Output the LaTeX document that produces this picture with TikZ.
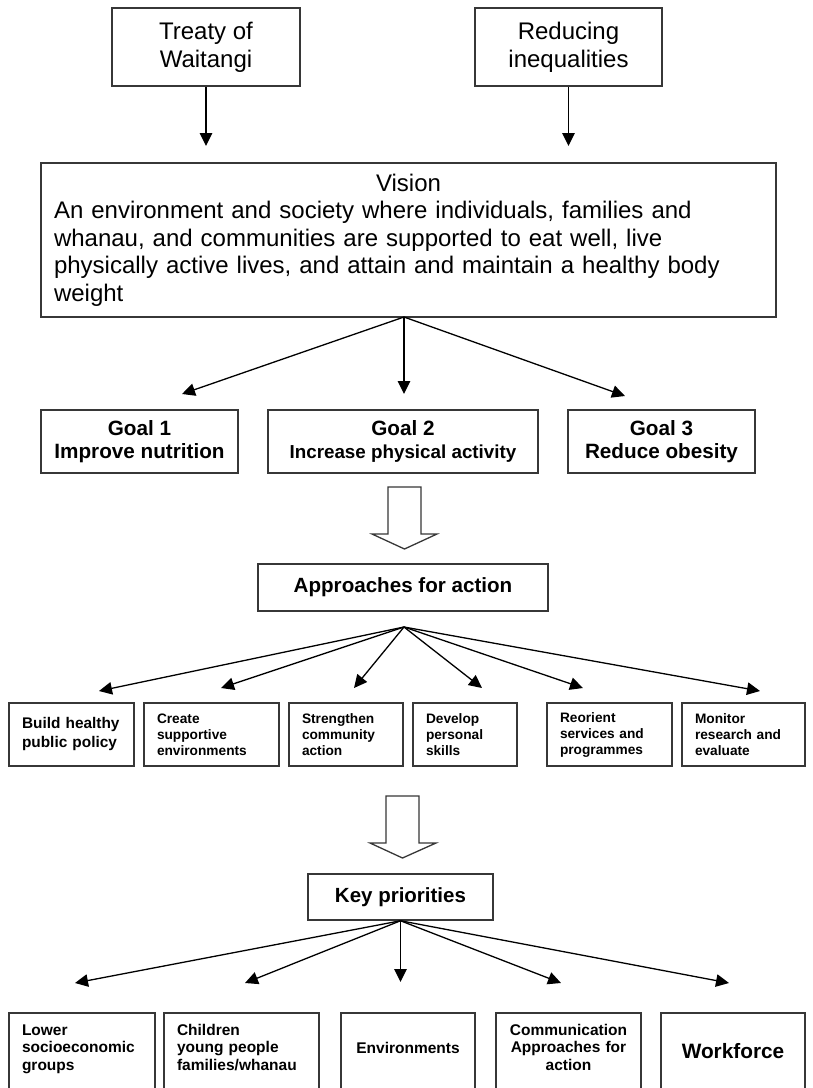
\documentclass[tikz,border=0pt]{standalone}
\usepackage{fontspec}
\setmainfont{Liberation Sans}
\usetikzlibrary{arrows.meta,positioning}
\definecolor{boxLine}{RGB}{55,55,55}
\newcommand{\fsz}[2]{\fontsize{#1}{#2}\selectfont}

\begin{document}
\begin{tikzpicture}[x=1pt,y=-1pt,
    box/.style={draw=boxLine, line width=1.5pt, inner sep=0pt, align=center},
    actbox/.style={box, inner xsep=13pt, minimum height=63pt, align=left,
      font=\bfseries\fsz{13.7}{16}},
    priobox/.style={box, inner xsep=13pt, anchor=north, text depth=110pt,
      font=\bfseries\fsz{15.5}{17.5}},
    link/.style={-{Triangle[length=13pt,width=12.5pt]}, line width=1.3pt},
    bigarrow/.style={draw=boxLine, line width=1.3pt, fill=white, line join=miter}]
    \clip (0,0) rectangle (812,1088);
    \fill[white] (0,0) rectangle (812,1088);
    % principles at the top
    \node[box, minimum width=188pt, minimum height=78pt, font=\fsz{24}{28}]
      (treaty) at (206,47) {Treaty of\\Waitangi};
    \node[box, minimum width=187pt, minimum height=78pt, font=\fsz{24}{28}]
      (reduce) at (568.5,47) {Reducing\\inequalities};
    \coordinate (treatytip) at (206,146);
    \coordinate (reducetip) at (568.5,146);
    \draw[link] (treaty.south) -- (treatytip);
    \draw[link] (reduce.south) -- (reducetip);
    % vision
    \node[box, minimum width=735pt, minimum height=154pt, text width=709pt,
      align=left, font=\fsz{24}{27.5}] (vision) at (408.5,240)
      {\makebox[\linewidth]{Vision}\\
       An environment and society where individuals, families and\\
       whanau, and communities are supported to eat well, live\\
       physically active lives, and attain and maintain a healthy body\\
       weight};
    % goals
    \node[box, minimum width=197pt, minimum height=63pt, font=\bfseries\fsz{20.7}{23}]
      (goal1) at (139.5,441.5) {Goal 1\\Improve nutrition};
    \node[box, minimum width=270pt, minimum height=63pt, font=\bfseries\fsz{20.7}{23}]
      (goal2) at (403,441.5) {Goal 2\\{\fsz{18.8}{23}Increase physical activity}};
    \node[box, minimum width=187pt, minimum height=63pt, font=\bfseries\fsz{20.7}{23}]
      (goal3) at (661.5,441.5) {Goal 3\\Reduce obesity};
    \coordinate (visfan) at (404,317);
    \foreach \n/\px/\py in {goal1/182/394, goal2/404/394, goal3/625/396}{
      \coordinate (\n tip) at (\px,\py);
      \draw[link] (visfan) -- (\n tip);
    }
    % hollow arrow down to the approaches
    \draw[bigarrow] (388,487) -- (421,487) -- (421,534) -- (437,534)
      -- (404.5,549) -- (372,534) -- (388,534) -- cycle;
    \node[box, minimum width=290pt, minimum height=47pt, font=\bfseries\fsz{20.6}{24}]
      (approach) at (403,587.5) {Approaches for action};
    % six approaches
    \node[actbox, text width=99pt, font=\bfseries\fsz{15.4}{19}]
      (act1) at (71.5,734.5) {Build healthy\\public policy};
    \node[actbox, text width=109pt] (act2) at (211.5,734.5)
      {Create\\supportive\\environments};
    \node[actbox, text width=88pt] (act3) at (346,734.5)
      {Strengthen\\community\\action};
    \node[actbox, text width=78pt] (act4) at (465,734.5)
      {Develop\\personal\\skills};
    \node[actbox, text width=99pt] (act5) at (609.5,734.5)
      {Reorient\\services and\\programmes};
    \node[actbox, text width=97pt] (act6) at (743.5,734.5)
      {Monitor\\research and\\evaluate};
    \coordinate (apfan) at (404,627);
    \foreach \n/\px/\py in {act1/99/691, act2/221/688, act3/354/688,
                            act4/482/688, act5/583/688, act6/760/691}{
      \coordinate (\n tip) at (\px,\py);
      \draw[link] (apfan) -- (\n tip);
    }
    % hollow arrow down to the priorities
    \draw[bigarrow] (386,796) -- (419,796) -- (419,843) -- (436,843)
      -- (402.5,858) -- (370,843) -- (386,843) -- cycle;
    \node[box, minimum width=185pt, minimum height=46pt, font=\bfseries\fsz{20.5}{24}]
      (keyprio) at (400.5,897) {Key priorities};
    % key priorities, cut off at the bottom edge
    \node[priobox, text width=120pt, align=left, text height=22.5pt]
      (prio1) at (82,1012) {Lower\\socioeconomic\\groups};
    \node[priobox, text width=129pt, align=left, text height=22.5pt]
      (prio2) at (241.5,1012) {Children\\young people\\families/whanau};
    \node[priobox, text width=108pt, text height=40.5pt]
      (prio3) at (408,1012) {Environments};
    \node[priobox, text width=119pt, text height=22.5pt]
      (prio4) at (568.5,1012) {Communication\\Approaches for\\action};
    \node[priobox, text width=118pt, text height=45.5pt, font=\bfseries\fsz{20.8}{24}]
      (prio5) at (733,1012) {Workforce};
    \foreach \n/\px/\py in {prio1/75/983, prio2/245/983, prio3/400.5/982,
                            prio4/561/983, prio5/729/983}{
      \coordinate (\n tip) at (\px,\py);
      \draw[link] (keyprio.south) -- (\n tip);
    }
\end{tikzpicture}
\end{document}
